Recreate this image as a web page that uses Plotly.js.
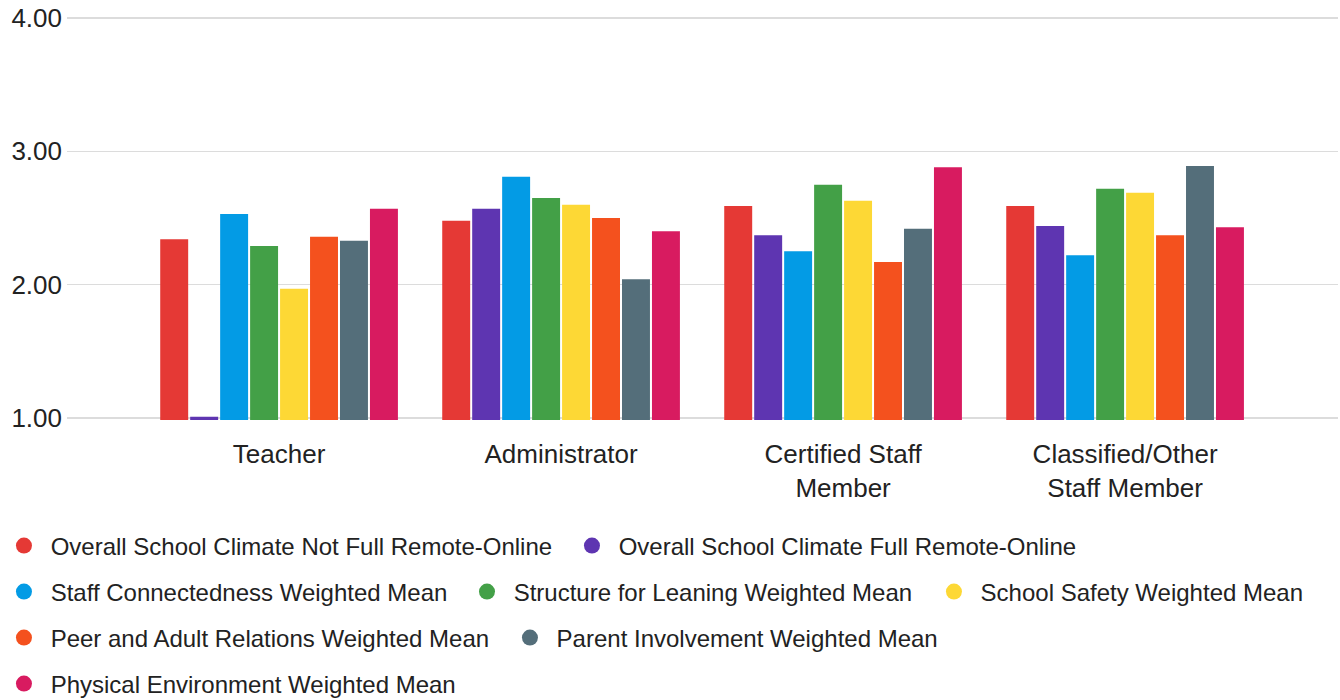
<!DOCTYPE html>
<html>
<head>
<meta charset="utf-8">
<script src="https://cdn.plot.ly/plotly-3.0.1.min.js"></script>
<style>html,body{margin:0;padding:0;background:#fff;}#chart{width:1340px;height:700px;}</style>
</head>
<body>
<div id="chart"></div>
<script>
// ---- data ----
var categories = ["Teacher", "Administrator", "Certified Staff<br>Member", "Classified/Other<br>Staff Member"];
var seriesNames = [
  "Overall School Climate Not Full Remote-Online",
  "Overall School Climate Full Remote-Online",
  "Staff Connectedness Weighted Mean",
  "Structure for Leaning Weighted Mean",
  "School Safety Weighted Mean",
  "Peer and Adult Relations Weighted Mean",
  "Parent Involvement Weighted Mean",
  "Physical Environment Weighted Mean"
];
var overallNotRemote   = [2.34, 2.48, 2.59, 2.59];
var overallFullRemote  = [1.01, 2.57, 2.37, 2.44];
var staffConnectedness = [2.53, 2.81, 2.25, 2.22];
var structureLearning  = [2.29, 2.65, 2.75, 2.72];
var schoolSafety       = [1.97, 2.60, 2.63, 2.69];
var peerAdultRelations = [2.36, 2.50, 2.17, 2.37];
var parentInvolvement  = [2.33, 2.04, 2.42, 2.89];
var physicalEnv        = [2.57, 2.40, 2.88, 2.43];
var seriesValues = [overallNotRemote, overallFullRemote, staffConnectedness, structureLearning,
                    schoolSafety, peerAdultRelations, parentInvolvement, physicalEnv];
var yTickVals = [1, 2, 3, 4];

// ---- style ----
var colors = ["#E53935", "#5E35B1", "#039BE5", "#43A047", "#FDD835", "#F4511E", "#546E7A", "#D81B60"];
var legendPos = [
  {x: -0.0496, y: -0.3118}, {x: 0.3973, y: -0.3118},
  {x: -0.0496, y: -0.4257}, {x: 0.3147, y: -0.4257}, {x: 0.6821, y: -0.4257},
  {x: -0.0496, y: -0.5396}, {x: 0.3485, y: -0.5396},
  {x: -0.0496, y: -0.6534}
];
var fontFam = "Liberation Sans, Arial, sans-serif";

var traces = [];
seriesValues.forEach(function (vals, i) {
  traces.push({
    type: "bar", x: categories, y: vals, name: seriesNames[i],
    marker: {color: colors[i]}, showlegend: false, legendgroup: "g" + i,
    hoverinfo: "x+y+name"
  });
});
seriesValues.forEach(function (vals, i) {
  traces.push({
    type: "scatter", mode: "markers", x: [null], y: [null],
    name: "\u00a0" + seriesNames[i], legendgroup: "g" + i,
    legend: i === 0 ? "legend" : "legend" + (i + 1),
    marker: {color: colors[i], size: 16, symbol: "circle"},
    showlegend: true, hoverinfo: "skip"
  });
});

var layout = {
  width: 1340, height: 700,
  margin: {l: 67, r: 2, t: 16, b: 280, autoexpand: false},
  paper_bgcolor: "#fff", plot_bgcolor: "#fff",
  font: {family: fontFam, color: "#222"},
  barmode: "group", bargap: 0.15, bargroupgap: 0.067,
  xaxis: {
    type: "category", range: [-0.752, 3.755], showgrid: false, zeroline: false,
    showline: false, ticks: "", tickfont: {size: 26, color: "#222"},
    ticklabelstandoff: 16
  },
  yaxis: {
    range: [0.985, 4.015], tickvals: yTickVals, tickformat: ".2f", showgrid: true,
    gridcolor: "#dcdcdc", gridwidth: 1.5, zeroline: false, showline: false, ticks: "",
    tickfont: {size: 26, color: "#222"}, ticklabelstandoff: 4
  },
  showlegend: true
};
legendPos.forEach(function (p, i) {
  var key = i === 0 ? "legend" : "legend" + (i + 1);
  layout[key] = {
    x: p.x, y: p.y, xanchor: "left", yanchor: "middle", xref: "paper", yref: "paper",
    orientation: "h", bgcolor: "rgba(0,0,0,0)", borderwidth: 0,
    font: {size: 24, color: "#222", family: fontFam}
  };
});

Plotly.newPlot("chart", traces, layout, {displayModeBar: false, staticPlot: true});
</script>
</body>
</html>
